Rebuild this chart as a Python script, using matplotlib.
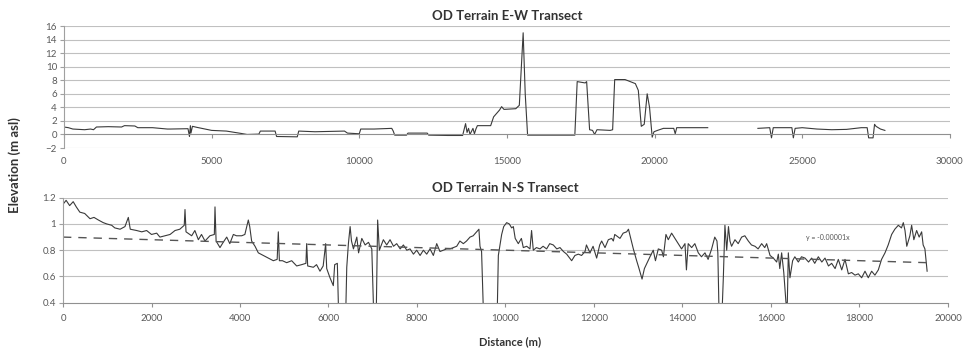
import numpy as np
import matplotlib.pyplot as plt

# E-W transect (distance m, elevation m asl); NaN marks the data gap
ew_dist = [0, 150, 300, 500, 700, 900, 1000, 1100, 1500, 1950, 2050, 2400, 2500,
           3000, 3500, 3600, 4200, 4250, 4280, 4300, 4350, 4500, 5000, 5500, 6000,
           6200, 6600, 6650, 7150, 7200, 7900, 7950, 8500, 9000, 9500, 9600, 10000,
           10050, 10500, 11100, 11150, 11200, 11600, 11650, 12300, 12350, 13000,
           13500, 13600, 13650, 13700, 13750, 13850, 13900, 13950, 14000, 14050,
           14450, 14550, 14750, 14820, 14900, 15300, 15420, 15550, 15620, 15700,
           16500, 17300, 17380, 17650, 17700, 17800, 17900, 17970, 18050, 18500,
           18580, 18650, 19000, 19350, 19450, 19550, 19650, 19750, 19830, 19920,
           19980, 20100, 20300, 20650, 20700, 20750, 21300, 21800, 22600,
           23500, 23900, 23960, 24020, 24300, 24650, 24700, 24760, 25000, 25500,
           26000, 26500, 27000, 27200, 27250, 27400, 27450, 27500, 27650, 27800]
ew_elev = [1.1, 1.0, 0.8, 0.75, 0.7, 0.8, 0.7, 1.1, 1.15, 1.1, 1.3, 1.25, 1.0,
           1.0, 0.8, 0.8, 0.85, -0.3, 1.3, 0.2, 1.2, 1.05, 0.6, 0.5, 0.15,
           0.0, 0.05, 0.5, 0.5, -0.3, -0.35, 0.5, 0.4, 0.45, 0.5, 0.2, 0.1,
           0.8, 0.8, 0.9, 0.5, -0.1, -0.1, 0.2, 0.2, -0.1, -0.15,
           -0.15, 1.6, 0.3, 0.9, 0.0, 0.9, 0.1, 0.8, 1.3, 1.3,
           1.3, 2.6, 3.6, 4.1, 3.7, 3.8, 4.3, 15.0, 6.0, -0.1,
           -0.1, -0.1, 7.8, 7.6, 7.8, 0.7, 0.6, 0.0, 0.7, 0.6,
           0.7, 8.1, 8.1, 7.5, 6.5, 1.2, 1.5, 6.0, 4.0, -0.4,
           0.4, 0.6, 0.9, 0.9, 0.1, 1.0, 1.0, 1.0, np.nan,
           0.9, 1.0, -0.5, 1.0, 1.0, 1.0, -0.5, 0.9, 1.0, 0.8,
           0.7, 0.75, 1.0, 1.0, -0.5, -0.5, 1.5, 1.2, 0.8, 0.6]

# N-S transect (distance m, elevation m asl)
ns_dist = [0, 70, 150, 230, 300, 380, 490, 610, 700, 800, 910, 990, 1100, 1170,
           1290, 1400, 1476, 1520, 1665, 1780, 1890, 2000, 2117, 2190, 2305, 2420,
           2531, 2640, 2740, 2757, 2780, 2908, 2980, 3059, 3130, 3209, 3320, 3420,
           3435, 3460, 3548, 3620, 3700, 3770, 3850, 3920, 4038, 4110, 4188, 4220,
           4263, 4340, 4414, 4527, 4640, 4753, 4840, 4866, 4890, 4960, 5055, 5168,
           5281, 5394, 5490, 5507, 5530, 5658, 5730, 5808, 5880, 5936, 5960, 6034,
           6109, 6140, 6200, 6245, 6300, 6375, 6413, 6450, 6489, 6520, 6564, 6640,
           6680, 6753, 6828, 6904, 6979, 7040, 7070, 7111, 7150, 7240, 7316, 7391,
           7470, 7542, 7620, 7693, 7770, 7843, 7920, 7994, 8070, 8145, 8220, 8295,
           8370, 8446, 8520, 8597, 8670, 8747, 8820, 8898, 8970, 9048, 9120, 9199,
           9270, 9349, 9400, 9424, 9460, 9522, 9650, 9801, 9839, 9914, 9960, 10027,
           10087, 10140, 10178, 10220, 10290, 10360, 10403, 10480, 10554, 10590,
           10629, 10700, 10780, 10850, 10930, 11000, 11081, 11160, 11232, 11310,
           11383, 11450, 11496, 11570, 11647, 11720, 11798, 11830, 11910, 11980,
           12061, 12130, 12174, 12250, 12325, 12400, 12438, 12470, 12588, 12660,
           12739, 12780, 12852, 12890, 12965, 13010, 13087, 13140, 13266, 13340,
           13390, 13454, 13530, 13570, 13627, 13680, 13755, 13830, 13906, 13980,
           14057, 14090, 14130, 14208, 14280, 14358, 14430, 14509, 14580, 14660,
           14730, 14780, 14800, 14840, 14870, 14924, 14960, 15000, 15040, 15074,
           15110, 15187, 15260, 15338, 15410, 15489, 15560, 15640, 15710, 15790,
           15860, 15903, 15980, 16054, 16130, 16167, 16200, 16242, 16290, 16340,
           16370, 16393, 16430, 16490, 16540, 16619, 16690, 16770, 16850, 16920,
           16990, 17071, 17150, 17222, 17300, 17372, 17450, 17523, 17600, 17674,
           17750, 17824, 17900, 17975, 18050, 18126, 18200, 18276, 18350, 18427,
           18500, 18578, 18650, 18728, 18800, 18879, 18950, 18992, 19030, 19070,
           19140, 19180, 19230, 19293, 19350, 19406, 19440, 19480, 19530]
ns_elev = [1.15, 1.18, 1.14, 1.17, 1.13, 1.09, 1.08, 1.04, 1.05, 1.03, 1.01, 1.0, 0.99, 0.97,
           0.96, 0.98, 1.05, 0.96, 0.95, 0.94, 0.95, 0.92, 0.93, 0.90, 0.91, 0.92,
           0.95, 0.96, 0.99, 1.11, 0.94, 0.91, 0.95, 0.88, 0.92, 0.87, 0.91, 0.92,
           1.13, 0.87, 0.82, 0.86, 0.90, 0.85, 0.92, 0.91, 0.91, 0.92, 1.03, 0.98,
           0.87, 0.83, 0.78, 0.76, 0.74, 0.72, 0.73, 0.94, 0.72, 0.72, 0.705, 0.72,
           0.68, 0.69, 0.70, 0.85, 0.68, 0.67, 0.69, 0.64, 0.68, 0.85, 0.66, 0.59,
           0.53, 0.69, 0.70, 0.10, 0.10, 0.10, 0.67, 0.85, 0.98, 0.87, 0.81, 0.90,
           0.78, 0.89, 0.84, 0.86, 0.81, 0.10, 0.10, 1.03, 0.80, 0.88, 0.84, 0.88,
           0.83, 0.85, 0.81, 0.84, 0.80, 0.81, 0.77, 0.80, 0.76, 0.80, 0.77, 0.81,
           0.76, 0.85, 0.79, 0.80, 0.81, 0.81, 0.82, 0.83, 0.87, 0.85, 0.87, 0.90,
           0.91, 0.94, 0.96, 0.83, 0.79, 0.10, 0.10, 0.10, 0.76, 0.92, 0.98, 1.01,
           1.0, 0.97, 0.98, 0.89, 0.85, 0.89, 0.82, 0.83, 0.81, 0.95,
           0.80, 0.82, 0.81, 0.83, 0.81, 0.85, 0.84, 0.81, 0.82, 0.79,
           0.77, 0.74, 0.72, 0.76, 0.77, 0.76, 0.79, 0.84, 0.78, 0.83,
           0.74, 0.84, 0.87, 0.82, 0.88, 0.89, 0.87, 0.92, 0.89, 0.93,
           0.94, 0.96, 0.86, 0.81, 0.72, 0.67, 0.58, 0.66, 0.75, 0.80,
           0.72, 0.81, 0.80, 0.75, 0.92, 0.88, 0.93, 0.89, 0.85, 0.81,
           0.85, 0.65, 0.85, 0.82, 0.85, 0.78, 0.75, 0.78, 0.73, 0.81,
           0.90, 0.87, 0.78, 0.10, 0.10, 0.59, 0.99, 0.80, 0.98, 0.87,
           0.83, 0.88, 0.85, 0.90, 0.91, 0.87, 0.84, 0.83, 0.81, 0.85,
           0.82, 0.85, 0.76, 0.74, 0.71, 0.77, 0.66, 0.78, 0.63, 0.40,
           0.40, 0.78, 0.59, 0.72, 0.75, 0.71, 0.75, 0.74, 0.71, 0.74,
           0.70, 0.75, 0.71, 0.74, 0.68, 0.70, 0.66, 0.73, 0.65, 0.73,
           0.62, 0.63, 0.61, 0.62, 0.59, 0.64, 0.59, 0.64, 0.61, 0.65,
           0.73, 0.78, 0.84, 0.92, 0.96, 0.99, 0.97, 1.01, 0.95, 0.83,
           0.91, 0.99, 0.88, 0.95, 0.90, 0.94, 0.84, 0.81, 0.64]

# linear trend shown on the N-S plot: y = -0.00001x
trend_dist = [0, 19530]
trend_elev = [0.9, 0.705]

ew_xticks = [0, 5000, 10000, 15000, 20000, 25000, 30000]
ew_yticks = [-2, 0, 2, 4, 6, 8, 10, 12, 14, 16]
ns_xticks = [0, 2000, 4000, 6000, 8000, 10000, 12000, 14000, 16000, 18000, 20000]
ns_yticks = [0.4, 0.6, 0.8, 1.0, 1.2]
ns_ylabels = ['0.4', '0.6', '0.8', '1', '1.2']

plt.rcParams['font.family'] = ['Lato', 'DejaVu Sans']
line_col = '#3a3a3a'
grid_col = '#c0c0c0'
tick_col = '#5a5a5a'

fig = plt.figure(figsize=(9.65, 3.51), dpi=100)

# --- E-W transect ---
ax1 = fig.add_axes([0.0663, 0.5783, 0.918, 0.3476])
ax1.plot(ew_dist, ew_elev, color=line_col, lw=0.8)
ax1.set_xlim(0, 30000)
ax1.set_ylim(-2, 16)
ax1.set_yticks(ew_yticks)
ax1.set_xticks(ew_xticks)
for y in ew_yticks:
    if y != 0:
        ax1.axhline(y, color=grid_col, lw=0.8, zorder=0)
ax1.spines[['top', 'right']].set_visible(False)
ax1.spines['left'].set_color('#a0a0a0')
ax1.spines['bottom'].set_position(('data', 0))
ax1.spines['bottom'].set_color('#909090')
ax1.tick_params(axis='y', length=3, color='#a0a0a0', labelcolor=tick_col, labelsize=7, pad=2)
ax1.tick_params(axis='x', length=3, color='#909090', labelcolor=tick_col, labelsize=7, pad=13)
ax1.set_title('OD Terrain E-W Transect', fontsize=9.5, fontweight='bold', color='#333333', pad=4)

# --- N-S transect ---
ax2 = fig.add_axes([0.0653, 0.1376, 0.917, 0.2991])
ax2.plot(ns_dist, ns_elev, color=line_col, lw=0.8)
ax2.plot(trend_dist, trend_elev, color='#555555', lw=1.0, ls=(0, (6, 5)))
ax2.set_xlim(0, 20000)
ax2.set_ylim(0.4, 1.2)
ax2.set_yticks(ns_yticks)
ax2.set_yticklabels(ns_ylabels)
ax2.set_xticks(ns_xticks)
for y in ns_yticks[1:]:
    ax2.axhline(y, color=grid_col, lw=0.8, zorder=0)
ax2.spines[['top', 'right']].set_visible(False)
ax2.spines['left'].set_color('#a0a0a0')
ax2.spines['bottom'].set_color('#909090')
ax2.tick_params(axis='y', length=3, color='#a0a0a0', labelcolor=tick_col, labelsize=7, pad=2)
ax2.tick_params(axis='x', length=3, color='#909090', labelcolor=tick_col, labelsize=7, pad=5)
ax2.set_title('OD Terrain N-S Transect', fontsize=9.5, fontweight='bold', color='#333333', pad=4)
ax2.text(16800, 0.9, 'y = -0.00001x', fontsize=5, color='#555555', va='center')

fig.text(15 / 965, 1 - 165 / 351, 'Elevation (m asl)', rotation=90, ha='center', va='center',
         fontsize=9.5, fontweight='bold', color='#333333')
fig.text(510 / 965, 1 - 342 / 351, 'Distance (m)', ha='center', va='center',
         fontsize=8, fontweight='bold', color='#333333')

fig.savefig('out.png', dpi=100)
